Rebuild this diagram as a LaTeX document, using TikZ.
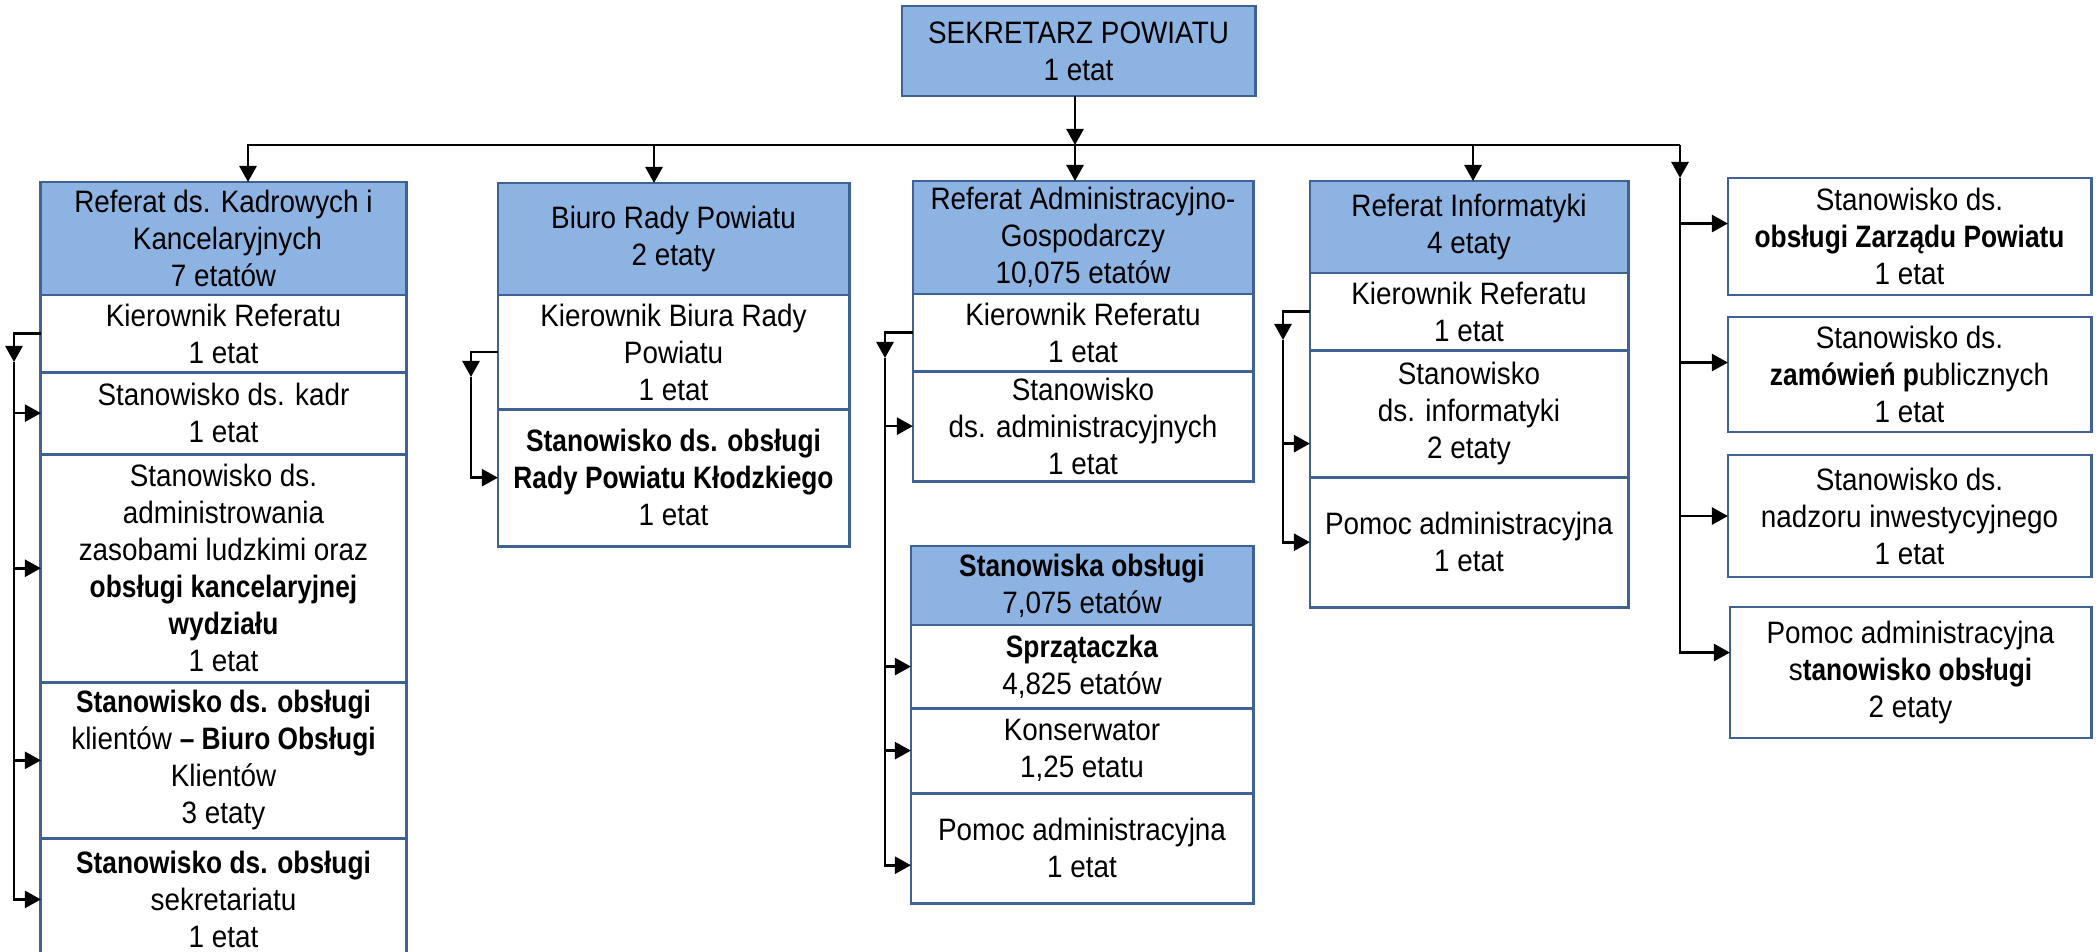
\documentclass[tikz,border=0pt]{standalone}
\usepackage{fontspec}
\setmainfont{Liberation Sans}[FakeStretch=0.9,BoldFeatures={FakeStretch=0.85}]
\usetikzlibrary{positioning}
\usetikzlibrary{arrows.meta}
\definecolor{ramka}{HTML}{3F6295}
\definecolor{naglowek}{HTML}{8DB3E2}

\begin{document}
\begin{tikzpicture}[x=0.01cm,y=-0.01cm,
    font=\fontsize{8.8pt}{10.5pt}\selectfont,
    box/.style={draw=ramka, line width=0.8pt, fill=white, align=center,
        inner sep=1pt, outer sep=0pt, anchor=north},
    hdr/.style={box, fill=naglowek},
    arr/.style={-{Triangle[length=0.16cm,width=0.17cm]}, line width=0.75pt},
    node distance=0pt]
\useasboundingbox (0,0) rectangle (2098,952);
%
\node[hdr, minimum width=3.53cm, minimum height=0.90cm] (sekretarz) at (1078.5,6)
    {SEKRETARZ POWIATU\\1 etat};
%
% Referat ds. Kadrowych i Kancelaryjnych
\node[hdr, minimum width=3.65cm, minimum height=1.13cm] (kadry) at (223.5,182)
    {Referat ds. Kadrowych i\\\ Kancelaryjnych\\7 etatów};
\node[box, below=of kadry, minimum width=3.65cm, minimum height=0.77cm] (kadryKier)
    {Kierownik Referatu\\1 etat};
\node[box, below=of kadryKier, minimum width=3.65cm, minimum height=0.82cm] (kadryKadr)
    {Stanowisko ds. kadr\\1 etat};
\node[box, below=of kadryKadr, minimum width=3.65cm, minimum height=2.28cm] (kadryZasoby)
    {Stanowisko ds.\\administrowania\\zasobami ludzkimi oraz\\
     \textbf{obsługi kancelaryjnej}\\\textbf{wydziału}\\1 etat};
\node[box, below=of kadryZasoby, minimum width=3.65cm, minimum height=1.56cm] (kadryBOK)
    {\textbf{Stanowisko ds. obsługi}\\klientów \textbf{– Biuro Obsługi}\\Klientów\\3 etaty};
\node[box, below=of kadryBOK, minimum width=3.65cm, minimum height=1.22cm] (kadrySekr)
    {\textbf{Stanowisko ds. obsługi}\\sekretariatu\\1 etat};
%
% Biuro Rady Powiatu
\node[hdr, minimum width=3.51cm, minimum height=1.12cm] (rada) at (673.5,183)
    {Biuro Rady Powiatu\\2 etaty};
\node[box, below=of rada, minimum width=3.51cm, minimum height=1.14cm] (radaKier)
    {Kierownik Biura Rady\\Powiatu\\1 etat};
\node[box, below=of radaKier, minimum width=3.51cm, minimum height=1.37cm] (radaObs)
    {\textbf{Stanowisko ds. obsługi}\\\textbf{Rady Powiatu Kłodzkiego}\\1 etat};
%
% Referat Administracyjno-Gospodarczy
\node[hdr, minimum width=3.40cm, minimum height=1.13cm] (adm) at (1083,181)
    {Referat Administracyjno-\\Gospodarczy\\10,075 etatów};
\node[box, below=of adm, minimum width=3.40cm, minimum height=0.77cm] (admKier)
    {Kierownik Referatu\\1 etat};
\node[box, below=of admKier, minimum width=3.40cm, minimum height=1.10cm] (admStan)
    {Stanowisko\\ds. administracyjnych\\1 etat};
%
\node[hdr, minimum width=3.42cm, minimum height=0.79cm] (obsl) at (1082,546)
    {\textbf{Stanowiska obsługi}\\7,075 etatów};
\node[box, below=of obsl, minimum width=3.42cm, minimum height=0.83cm] (obslSprz)
    {\textbf{Sprzątaczka}\\4,825 etatów};
\node[box, below=of obslSprz, minimum width=3.42cm, minimum height=0.85cm] (obslKons)
    {Konserwator\\1,25 etatu};
\node[box, below=of obslKons, minimum width=3.42cm, minimum height=1.10cm] (obslPomoc)
    {Pomoc administracyjna\\1 etat};
%
% Referat Informatyki
\node[hdr, minimum width=3.18cm, minimum height=0.92cm] (inf) at (1469,181)
    {Referat Informatyki\\4 etaty};
\node[box, below=of inf, minimum width=3.18cm, minimum height=0.77cm] (infKier)
    {Kierownik Referatu\\1 etat};
\node[box, below=of infKier, minimum width=3.18cm, minimum height=1.27cm] (infStan)
    {Stanowisko\\ds. informatyki\\2 etaty};
\node[box, below=of infStan, minimum width=3.18cm, minimum height=1.30cm] (infPomoc)
    {Pomoc administracyjna\\1 etat};
%
% samodzielne stanowiska
\node[box, minimum width=3.63cm, minimum height=1.17cm] (zarzad) at (1909.5,178)
    {Stanowisko ds.\\\textbf{obsługi Zarządu Powiatu}\\1 etat};
\node[box, minimum width=3.63cm, minimum height=1.15cm] (zamow) at (1909.5,317)
    {Stanowisko ds.\\\textbf{zamówień p}ublicznych\\1 etat};
\node[box, minimum width=3.63cm, minimum height=1.22cm] (nadzor) at (1909.5,455)
    {Stanowisko ds.\\nadzoru inwestycyjnego\\1 etat};
\node[box, minimum width=3.61cm, minimum height=1.31cm] (pomocObs) at (1910.5,607)
    {Pomoc administracyjna\\s\textbf{tanowisko obsługi}\\2 etaty};
%
% linie
\coordinate (bus) at (1075,145);
\coordinate (busL) at (248,145);
\coordinate (busRada) at (654,145);
\coordinate (busInf) at (1473,145);
\coordinate (busR) at (1680,145);
\coordinate (spadR) at (1680,178);
\coordinate (kadrySpad) at (14,362);
\coordinate (radaSpad) at (471,377);
\coordinate (admSpad) at (885,358);
\coordinate (infSpad) at (1283,340);
\coordinate (obslPomocIn) at ([yshift=-0.17cm]obslPomoc.west);
\coordinate (infStanIn) at ([yshift=-0.30cm]infStan.west);
\coordinate (zarzadIn) at ([yshift=0.13cm]zarzad.west);
\coordinate (zamowIn) at ([yshift=0.12cm]zamow.west);
\coordinate (pomocObsIn) at ([yshift=0.20cm]pomocObs.west);
%
\draw[arr] (bus |- sekretarz.south) -- (bus);
\draw[arr] (bus) -- (bus |- adm.north);
\draw[arr] (busR) -- (busL) -- (busL |- kadry.north);
\draw[arr] (busRada) -- (busRada |- rada.north);
\draw[arr] (busInf) -- (busInf |- inf.north);
\draw[arr] (busR) -- (spadR);
%
\draw[arr] (kadryKier.west) -| (kadrySpad);
\draw[arr] (kadrySpad) |- (kadrySekr.west);
\foreach \n in {kadryKadr,kadryZasoby,kadryBOK}
    \draw[arr] (kadrySpad |- \n.west) -- (\n.west);
%
\draw[arr] (radaKier.west) -| (radaSpad);
\draw[arr] (radaSpad) |- (radaObs.west);
%
\draw[arr] (admKier.west) -| (admSpad);
\draw[arr] (admSpad) |- (obslPomocIn);
\foreach \n in {admStan,obslSprz,obslKons}
    \draw[arr] (admSpad |- \n.west) -- (\n.west);
%
\draw[arr] (infKier.west) -| (infSpad);
\draw[arr] (infSpad) |- (infPomoc.west);
\draw[arr] (infSpad |- infStanIn) -- (infStanIn);
%
\draw[arr] (spadR) |- (pomocObsIn);
\draw[arr] (spadR |- zarzadIn) -- (zarzadIn);
\draw[arr] (spadR |- zamowIn) -- (zamowIn);
\draw[arr] (spadR |- nadzor.west) -- (nadzor.west);
\end{tikzpicture}
\end{document}
